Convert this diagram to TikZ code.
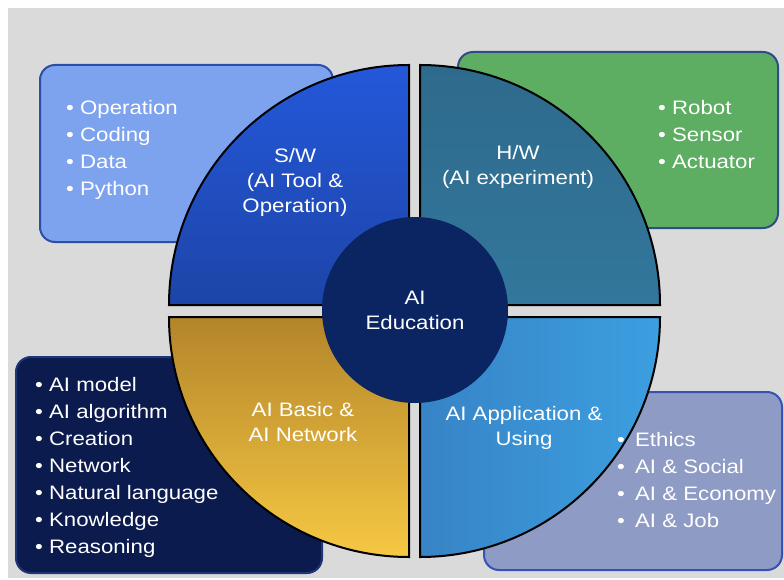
\documentclass[tikz,border=0pt]{standalone}
\usepackage{fontspec}
\setmainfont[FakeStretch=1.14]{Liberation Sans}
\usepackage{xcolor}
\usepackage{tikz}

\definecolor{bggray}{HTML}{DADADA}
\definecolor{swbox}{HTML}{7DA2EE}
\definecolor{swline}{HTML}{2B4FA6}
\definecolor{hwbox}{HTML}{5DAE63}
\definecolor{hwline}{HTML}{2E4C86}
\definecolor{basicbox}{HTML}{0B1B4E}
\definecolor{basicline}{HTML}{1E3576}
\definecolor{appbox}{HTML}{8E9BC5}
\definecolor{appline}{HTML}{3552B4}
\definecolor{corefill}{HTML}{0B2462}

\begin{document}
\begin{tikzpicture}[x=1pt,y=-1pt,
    listbox/.style={rounded corners=15pt, line width=2pt},
    wedge/.style={draw=black, line width=2pt},
    title/.style={text=white, align=center, inner sep=0pt,
        font=\fontsize{19.5}{25}\selectfont},
    items/.style={text=white, align=left, inner sep=0pt, anchor=north west,
        font=\fontsize{19.5}{27}\selectfont}]
    \useasboundingbox (0,0) rectangle (784,580);
    \fill[white] (0,0) rectangle (784,580);
    \fill[bggray] (8,8) rectangle (784,578);
    % boxes behind the wheel
    \draw[listbox, fill=swbox, draw=swline] (40,65) rectangle (333,242);
    \draw[listbox, fill=hwbox, draw=hwline] (458,52) rectangle (778,228);
    \draw[listbox, fill=basicbox, draw=basicline] (16,357) rectangle (322,573);
    \draw[listbox, fill=appbox, draw=appline] (484,392) rectangle (782,570);
    % four quarters
    \draw[wedge, top color={rgb,255:red,36;green,88;blue,218}, bottom color={rgb,255:red,29;green,69;blue,168}]
        (409,305) -- (409,65) arc[start angle=-90, end angle=-180, radius=240] -- cycle;
    \draw[wedge, top color={rgb,255:red,46;green,106;blue,140}, bottom color={rgb,255:red,50;green,119;blue,156}]
        (420,305) -- (420,65) arc[start angle=-90, end angle=0, radius=240] -- cycle;
    \draw[wedge, top color={rgb,255:red,179;green,133;blue,42}, bottom color={rgb,255:red,246;green,200;blue,67}]
        (409,317) -- (169,317) arc[start angle=180, end angle=90, radius=240] -- cycle;
    \draw[wedge, left color={rgb,255:red,55;green,132;blue,198}, right color={rgb,255:red,60;green,159;blue,224}]
        (420,317) -- (660,317) arc[start angle=0, end angle=90, radius=240] -- cycle;
    \node[circle, fill=corefill, minimum size=186pt, inner sep=0pt] (core) at (415,310) {};
    \node[title] (coretext) at (core.center) {AI\\Education};
    \node[title] (sw) at (295,182) {S/W\\(AI Tool \&\\Operation)};
    \node[title] (hw) at (518,167) {H/W\\(AI experiment)};
    \node[title] (basic) at (303,422) {AI Basic \&\\AI Network};
    \node[title] (app) at (524,428) {AI Application \&\\Using};
    \node[items] (swlist) at (66,100) {• Operation\\• Coding\\• Data\\• Python};
    \node[items] (hwlist) at (658,100) {• Robot\\• Sensor\\• Actuator};
    \node[items] (basiclist) at (35,377) {• AI model\\• AI algorithm\\• Creation\\• Network\\• Natural language\\• Knowledge\\• Reasoning};
    \node[items] (applist) at (617,432) {•\hspace{4pt} Ethics\\•\hspace{4pt} AI \& Social\\•\hspace{4pt} AI \& Economy\\•\hspace{4pt} AI \& Job};
\end{tikzpicture}
\end{document}
